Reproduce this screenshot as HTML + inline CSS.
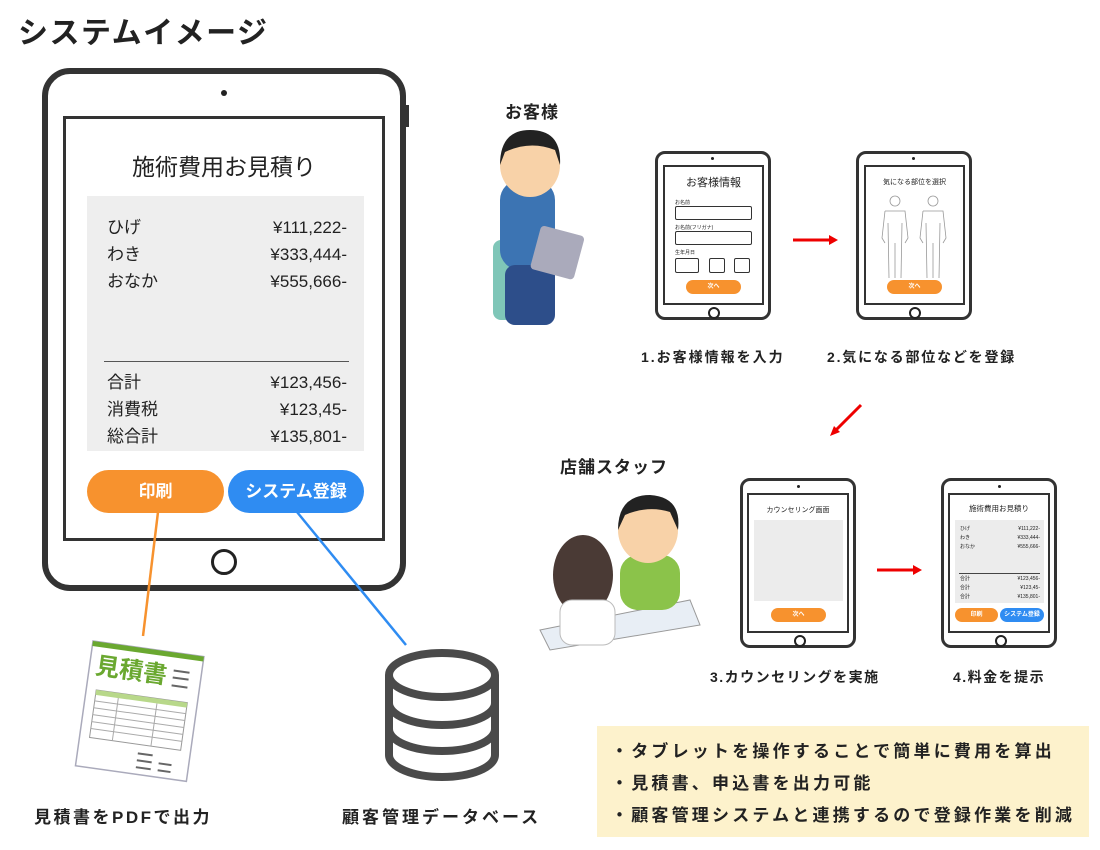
<!DOCTYPE html>
<html><head><meta charset="utf-8"><style>
body{margin:0;width:1100px;height:850px;background:#fff;position:relative;overflow:hidden;font-family:"Liberation Sans","Noto Sans CJK JP",sans-serif;color:#222}
.a{position:absolute}
.t{font-weight:bold}
.tab{position:absolute;border:3px solid #333;border-radius:10px;background:#fff;box-sizing:border-box}
.scr{position:absolute;border:2px solid #333;background:#fff;box-sizing:border-box}
.btn{position:absolute;border-radius:20px;color:#fff;font-weight:bold;text-align:center}
</style></head><body>
<div class="a t" style="left:18px;top:8px;font-size:30px;letter-spacing:1.5px">システムイメージ</div>

<!-- big tablet -->
<div class="tab" style="left:42px;top:68px;width:364px;height:523px;border-width:6px;border-radius:28px"></div>
<div class="a" style="left:221px;top:90px;width:6px;height:6px;border-radius:50%;background:#222"></div>
<div class="a" style="left:405px;top:105px;width:4px;height:22px;background:#333"></div>
<div class="scr" style="left:63px;top:116px;width:322px;height:425px;border-width:3px"></div>
<div class="a" style="left:211px;top:549px;width:20px;height:20px;border:3px solid #222;border-radius:50%"></div>
<div class="a" style="left:63px;top:148px;width:322px;text-align:center;font-size:23px">施術費用お見積り</div>
<div class="a" style="left:87px;top:196px;width:277px;height:255px;background:#eee"></div>
<div class="a" style="left:107px;top:214px;width:240px;font-size:17px;line-height:27px">
<div style="display:flex;justify-content:space-between"><span>ひげ</span><span>¥111,222-</span></div>
<div style="display:flex;justify-content:space-between"><span>わき</span><span>¥333,444-</span></div>
<div style="display:flex;justify-content:space-between"><span>おなか</span><span>¥555,666-</span></div></div>
<div class="a" style="left:104px;top:361px;width:245px;height:1px;background:#555"></div>
<div class="a" style="left:107px;top:369px;width:240px;font-size:17px;line-height:27px">
<div style="display:flex;justify-content:space-between"><span>合計</span><span>¥123,456-</span></div>
<div style="display:flex;justify-content:space-between"><span>消費税</span><span>¥123,45-</span></div>
<div style="display:flex;justify-content:space-between"><span>総合計</span><span>¥135,801-</span></div></div>
<div class="btn" style="left:87px;top:470px;width:137px;height:43px;line-height:43px;background:#f7922e;border-radius:22px;font-size:17px">印刷</div>
<div class="btn" style="left:228px;top:470px;width:136px;height:43px;line-height:43px;background:#2f8cf2;border-radius:22px;font-size:17px">システム登録</div>

<svg class="a" style="left:0;top:0" width="1100" height="850">
<line x1="158" y1="512" x2="143" y2="636" stroke="#f7922e" stroke-width="2.5"/>
<line x1="297" y1="512" x2="406" y2="645" stroke="#2f8cf2" stroke-width="2.5"/>
<!-- document -->
<g transform="translate(93,641) rotate(8)">
<rect x="0" y="0" width="112" height="126" fill="#fff" stroke="#aab" stroke-width="1.5"/>
<rect x="0" y="0" width="112" height="5" fill="#6aa830"/>
<text x="6" y="32" font-size="24" font-weight="bold" fill="#6aa830" font-family="Noto Sans CJK JP">見積書</text>
<rect x="10" y="48" width="92" height="48" fill="none" stroke="#999"/>
<rect x="10" y="48" width="92" height="5" fill="#b8d88a"/>
<g stroke="#aaa"><line x1="10" y1="59" x2="102" y2="59"/><line x1="10" y1="66" x2="102" y2="66"/><line x1="10" y1="73" x2="102" y2="73"/><line x1="10" y1="80" x2="102" y2="80"/><line x1="10" y1="87" x2="102" y2="87"/><line x1="33" y1="53" x2="33" y2="96"/><line x1="72" y1="53" x2="72" y2="96"/></g>
<g stroke="#666" stroke-width="2"><line x1="60" y1="105" x2="75" y2="105"/><line x1="60" y1="112" x2="75" y2="112"/><line x1="82" y1="112" x2="95" y2="112"/><line x1="60" y1="119" x2="75" y2="119"/><line x1="82" y1="119" x2="95" y2="119"/><line x1="84" y1="18" x2="100" y2="18"/><line x1="84" y1="25" x2="100" y2="25"/><line x1="84" y1="33" x2="100" y2="33"/></g>
</g>
<!-- database -->
<g fill="none" stroke="#4a4a4a" stroke-width="8">
<path d="M389 675 V755 A53 22 0 0 0 495 755 V675"/>
<ellipse cx="442" cy="675" rx="53" ry="22"/>
<path d="M389 703 A53 22 0 0 0 495 703"/>
<path d="M389 729 A53 22 0 0 0 495 729"/>
</g>
<!-- arrows -->
<g fill="#e00" stroke="#e00" stroke-width="3">
<line x1="793" y1="240" x2="830" y2="240"/><polygon points="838,240 829,235 829,245" stroke="none"/>
<line x1="877" y1="570" x2="915" y2="570"/><polygon points="922,570 913,565 913,575" stroke="none"/>
<line x1="861" y1="405" x2="836" y2="430"/><polygon points="830,436 834,426 840,432" stroke="none"/>
</g>
<!-- customer -->
<g>
<rect x="493" y="240" width="20" height="80" rx="8" fill="#7fc6b8"/>
<rect x="500" y="180" width="55" height="90" rx="20" fill="#3c74b3"/>
<rect x="505" y="265" width="50" height="60" rx="10" fill="#2d4e8a"/>
<ellipse cx="530" cy="165" rx="30" ry="32" fill="#f8d2a8"/>
<path d="M500 165 Q500 130 530 130 Q562 130 560 165 L555 150 Q530 140 505 152 Z" fill="#222"/>
<rect x="535" y="230" width="45" height="45" rx="4" fill="#aab" transform="rotate(15 557 252)"/>
</g>
<!-- staff -->
<g>
<path d="M540 630 L690 600 L700 625 L550 650 Z" fill="#e8eef5" stroke="#999"/>
<rect x="620" y="555" width="60" height="55" rx="18" fill="#8bc34a"/>
<ellipse cx="648" cy="530" rx="30" ry="33" fill="#f8d2a8"/>
<path d="M618 530 Q618 495 650 495 Q682 497 678 530 L670 512 Q648 505 625 515 Z" fill="#222"/>
<ellipse cx="583" cy="575" rx="30" ry="40" fill="#4a3a35"/>
<rect x="560" y="600" width="55" height="45" rx="12" fill="#fff" stroke="#bbb"/>
</g>
</svg>

<div class="a t" style="left:505px;top:98px;font-size:17px;letter-spacing:1px">お客様</div>
<div class="a t" style="left:560px;top:453px;font-size:17px;letter-spacing:1px">店舗スタッフ</div>

<!-- small tablet 1 -->
<div class="tab" style="left:655px;top:151px;width:116px;height:169px;border-radius:10px"></div>
<div class="scr" style="left:663px;top:165px;width:101px;height:140px"></div>
<div class="a" style="left:711px;top:157px;width:3px;height:3px;background:#222;border-radius:50%"></div>
<div class="a" style="left:708px;top:307px;width:8px;height:8px;border:2px solid #222;border-radius:50%"></div>
<div class="a" style="left:663px;top:174px;width:101px;text-align:center;font-size:11px">お客様情報</div>
<div class="a" style="left:675px;top:199px;font-size:5px">お名前</div>
<div class="a" style="left:675px;top:206px;width:75px;height:12px;border:1px solid #333;border-radius:2px"></div>
<div class="a" style="left:675px;top:224px;font-size:5px">お名前(フリガナ)</div>
<div class="a" style="left:675px;top:231px;width:75px;height:12px;border:1px solid #333;border-radius:2px"></div>
<div class="a" style="left:675px;top:249px;font-size:5px">生年月日</div>
<div class="a" style="left:675px;top:258px;width:22px;height:13px;border:1px solid #333;border-radius:2px"></div>
<div class="a" style="left:709px;top:258px;width:14px;height:13px;border:1px solid #333;border-radius:2px"></div>
<div class="a" style="left:734px;top:258px;width:14px;height:13px;border:1px solid #333;border-radius:2px"></div>
<div class="btn" style="left:686px;top:280px;width:55px;height:14px;line-height:14px;background:#f7922e;font-size:6px">次へ</div>

<!-- small tablet 2 -->
<div class="tab" style="left:856px;top:151px;width:116px;height:169px"></div>
<div class="scr" style="left:864px;top:165px;width:101px;height:140px"></div>
<div class="a" style="left:912px;top:157px;width:3px;height:3px;background:#222;border-radius:50%"></div>
<div class="a" style="left:909px;top:307px;width:8px;height:8px;border:2px solid #222;border-radius:50%"></div>
<div class="a" style="left:864px;top:177px;width:101px;text-align:center;font-size:7px">気になる部位を選択</div>
<svg class="a" style="left:875px;top:193px" width="80" height="88"><g fill="none" stroke="#999" stroke-width="0.8">
<circle cx="20" cy="8" r="5"/><path d="M10 18 H30 L33 45 L30 50 M10 18 L7 45 L10 50 M13 30 L14 85 M27 30 L26 85 M20 50 V85"/>
<circle cx="58" cy="8" r="5"/><path d="M48 18 H68 L71 45 L68 50 M48 18 L45 45 L48 50 M51 30 L52 85 M65 30 L64 85 M58 50 V85"/></g></svg>
<div class="btn" style="left:887px;top:280px;width:55px;height:14px;line-height:14px;background:#f7922e;font-size:6px">次へ</div>

<div class="a t" style="left:641px;top:347px;font-size:14px;letter-spacing:2px">1.お客様情報を入力</div>
<div class="a t" style="left:827px;top:347px;font-size:14px;letter-spacing:1.8px">2.気になる部位などを登録</div>

<!-- small tablet 3 -->
<div class="tab" style="left:740px;top:478px;width:116px;height:170px"></div>
<div class="scr" style="left:747px;top:493px;width:102px;height:140px"></div>
<div class="a" style="left:797px;top:485px;width:3px;height:3px;background:#222;border-radius:50%"></div>
<div class="a" style="left:794px;top:635px;width:8px;height:8px;border:2px solid #222;border-radius:50%"></div>
<div class="a" style="left:747px;top:505px;width:102px;text-align:center;font-size:7px">カウンセリング画面</div>
<div class="a" style="left:754px;top:520px;width:89px;height:81px;background:#ececec"></div>
<div class="btn" style="left:771px;top:608px;width:55px;height:14px;line-height:14px;background:#f7922e;font-size:6px">次へ</div>

<!-- small tablet 4 -->
<div class="tab" style="left:941px;top:478px;width:116px;height:170px"></div>
<div class="scr" style="left:948px;top:493px;width:102px;height:140px"></div>
<div class="a" style="left:998px;top:485px;width:3px;height:3px;background:#222;border-radius:50%"></div>
<div class="a" style="left:995px;top:635px;width:8px;height:8px;border:2px solid #222;border-radius:50%"></div>
<div class="a" style="left:948px;top:503px;width:102px;text-align:center;font-size:7.5px">施術費用お見積り</div>
<div class="a" style="left:955px;top:520px;width:89px;height:83px;background:#ececec"></div>
<div class="a" style="left:960px;top:525px;width:80px;font-size:5px;line-height:9px">
<div style="display:flex;justify-content:space-between"><span>ひげ</span><span>¥111,222-</span></div>
<div style="display:flex;justify-content:space-between"><span>わき</span><span>¥333,444-</span></div>
<div style="display:flex;justify-content:space-between"><span>おなか</span><span>¥555,666-</span></div></div>
<div class="a" style="left:959px;top:573px;width:81px;height:1px;background:#444"></div>
<div class="a" style="left:960px;top:575px;width:80px;font-size:5px;line-height:9px">
<div style="display:flex;justify-content:space-between"><span>合計</span><span>¥123,456-</span></div>
<div style="display:flex;justify-content:space-between"><span>合計</span><span>¥123,45-</span></div>
<div style="display:flex;justify-content:space-between"><span>合計</span><span>¥135,801-</span></div></div>
<div class="btn" style="left:955px;top:608px;width:43px;height:14px;line-height:14px;background:#f7922e;font-size:6px">印刷</div>
<div class="btn" style="left:1000px;top:608px;width:44px;height:14px;line-height:14px;background:#2f8cf2;font-size:6px">システム登録</div>

<div class="a t" style="left:710px;top:667px;font-size:14px;letter-spacing:1.5px">3.カウンセリングを実施</div>
<div class="a t" style="left:953px;top:667px;font-size:14px;letter-spacing:1.5px">4.料金を提示</div>

<div class="a t" style="left:34px;top:803px;font-size:17px;letter-spacing:2.5px">見積書をPDFで出力</div>
<div class="a t" style="left:342px;top:803px;font-size:17px;letter-spacing:3px">顧客管理データベース</div>

<div class="a" style="left:597px;top:726px;width:492px;height:111px;background:#fdf2cc"></div>
<div class="a t" style="left:611px;top:736px;font-size:17px;line-height:32px;letter-spacing:3.2px;white-space:nowrap">・タブレットを操作することで簡単に費用を算出<br>・見積書、申込書を出力可能<br>・顧客管理システムと連携するので登録作業を削減</div>
</body></html>
